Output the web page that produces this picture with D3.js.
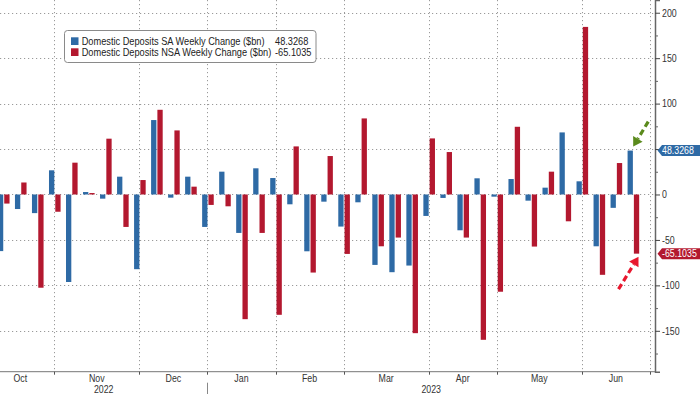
<!DOCTYPE html>
<html>
<head>
<meta charset="utf-8">
<script src="https://cdn.jsdelivr.net/npm/d3@7"></script>
<style>
  body { margin: 0; background: #fff; }
  svg { display: block; font-family: "Liberation Sans", Arial, sans-serif; }
</style>
</head>
<body>
<div id="chart"></div>
<script>
// Week ending dates (Wednesdays)
const weeks = [
    "2022-10-05", "2022-10-12", "2022-10-19", "2022-10-26",
    "2022-11-02", "2022-11-09", "2022-11-16", "2022-11-23", "2022-11-30",
    "2022-12-07", "2022-12-14", "2022-12-21", "2022-12-28",
    "2023-01-04", "2023-01-11", "2023-01-18", "2023-01-25",
    "2023-02-01", "2023-02-08", "2023-02-15", "2023-02-22",
    "2023-03-01", "2023-03-08", "2023-03-15", "2023-03-22", "2023-03-29",
    "2023-04-05", "2023-04-12", "2023-04-19", "2023-04-26",
    "2023-05-03", "2023-05-10", "2023-05-17", "2023-05-24", "2023-05-31",
    "2023-06-07", "2023-06-14", "2023-06-21"
];

// Domestic deposits, seasonally adjusted weekly change ($bn)
const saChange = [
    -62.3, -16, -20.5, 26.6,
    -96.3, 2.7, -4.6, 19.6, -82.2,
    81.9, -3.5, 19.6, -35.7,
    25.1, -42.3, 28.8, 18.1,
    -10.8, -62.5, -7.9, -35.3,
    -8.6, -77.5, -85.5, -78.2, -23.6,
    -3.8, -39.4, 17.8, -2.4,
    17.0, -6.8, 7.5, 68.3, 14.5,
    -57, -14.7, 48.3268
];

// Domestic deposits, not seasonally adjusted weekly change ($bn)
const nsaChange = [
    -10, 13.2, -102.6, -19,
    35, 1.6, 61.4, -35.7, 15.9,
    93.2, 70.5, 8.6, -11.5,
    -13, -137.2, -42.3, -132.4,
    52.9, -85.9, 42.3, -65.4,
    83.7, -57, -47.4, -152.6, 61.7,
    46.7, -47.4, -159.9, -107,
    74.5, -57.3, 25.1, -29.5, 184.4,
    -88.4, 34.6, -65.1035
];

const seriesNames = [
    "Domestic Deposits SA Weekly Change ($bn)",
    "Domestic Deposits NSA Weekly Change ($bn)"
];
const yTicks = [-150, -100, -50, 0, 50, 100, 150, 200];
const yMinorTicks = [-175, -125, -75, -25, 25, 75, 125, 175];

const width = 700;
const height = 394;
const plotRight = 655;
const plotBottom = 371.7;
const blue = "#2e6aa5";
const red = "#b3182f";
const narrow = 0.84; // the terminal font is a condensed face

const parse = d3.timeParse("%Y-%m-%d");
const dates = weeks.map(parse);
const data = dates.map((d, i) => ({ date: d, sa: saChange[i], nsa: nsaChange[i] }));
const last = data[data.length - 1];

const svg = d3.select("#chart")
    .append("svg")
    .attr("width", width)
    .attr("height", height)
    .attr("viewBox", [0, 0, width, height]);

// Scales: x is the week index, y the change in $bn
const x = d3.scaleLinear()
    .domain([-0.19, dates.length + 0.3])
    .range([0, plotRight]);

const y = d3.scaleLinear()
    .domain([-195, 214])
    .range([plotBottom, 0]);

// Month boundaries sit on the last week of each month
const weekAt = i => d3.timeWednesday.offset(dates[0], i);
const monthTicks = [];
for (let i = -1; i <= dates.length; i++) {
    if (weekAt(i).getMonth() !== weekAt(i + 1).getMonth()) monthTicks.push(i);
}

// condensed text placed at (px, py)
function label(sel, px, py, size) {
    return sel.attr("transform", (d, i) => `translate(${typeof px === "function" ? px(d, i) : px},${typeof py === "function" ? py(d, i) : py}) scale(${narrow},1)`)
        .style("font-size", size + "px");
}

// Grid
const grid = svg.append("g")
    .attr("stroke", "#9a9a9a")
    .attr("stroke-width", 1)
    .attr("stroke-dasharray", "1.2,2.8");

grid.selectAll("line.h")
    .data(yTicks)
    .join("line")
    .attr("x1", 0)
    .attr("x2", plotRight)
    .attr("y1", d => Math.round(y(d)) + 0.5)
    .attr("y2", d => Math.round(y(d)) + 0.5);

grid.selectAll("line.v")
    .data(monthTicks.filter(i => x(i) > 0))
    .join("line")
    .attr("x1", d => Math.round(x(d)) + 0.5)
    .attr("x2", d => Math.round(x(d)) + 0.5)
    .attr("y1", 0)
    .attr("y2", plotBottom);

// Bars
const barW = 5.3;
svg.append("g")
    .attr("fill", blue)
    .selectAll("rect")
    .data(data)
    .join("rect")
    .attr("x", (d, i) => x(i) - barW)
    .attr("width", barW)
    .attr("y", d => y(Math.max(0, d.sa)))
    .attr("height", d => Math.abs(y(d.sa) - y(0)));

svg.append("g")
    .attr("fill", red)
    .selectAll("rect")
    .data(data)
    .join("rect")
    .attr("x", (d, i) => x(i) + 1)
    .attr("width", barW)
    .attr("y", d => y(Math.max(0, d.nsa)))
    .attr("height", d => Math.abs(y(d.nsa) - y(0)));

// Right axis; labels hidden under the last-value tags are dropped
const covered = v => [last.sa, last.nsa].some(t => Math.abs(y(t) - y(v)) < 9);
const yAxis = svg.append("g")
    .attr("transform", `translate(${plotRight},0)`)
    .call(d3.axisRight(y).tickValues(yTicks).tickSize(5).tickPadding(2)
        .tickFormat(d => covered(d) ? "" : String(d)));

svg.append("g")
    .attr("transform", `translate(${plotRight},0)`)
    .call(d3.axisRight(y).tickValues(yMinorTicks).tickSize(3).tickFormat(""))
    .call(g => g.select(".domain").remove())
    .selectAll("line").attr("stroke", "#666");

yAxis.select(".domain").attr("stroke", "#666").attr("stroke-width", 1.5);
yAxis.selectAll(".tick line").attr("stroke", "#444");
yAxis.selectAll(".tick text")
    .attr("x", 0)
    .attr("fill", "#333")
    .style("font-family", "inherit")
    .call(label, 7, 0, 10.5);

// Bottom axis
const xAxis = svg.append("g")
    .attr("transform", `translate(0,${plotBottom})`);

xAxis.append("line")
    .attr("x1", 0)
    .attr("x2", plotRight)
    .attr("stroke", "#777")
    .attr("stroke-width", 1);

xAxis.selectAll("line.tick")
    .data(monthTicks.filter(i => x(i) > 0))
    .join("line")
    .attr("class", "tick")
    .attr("x1", d => Math.round(x(d)) + 0.5)
    .attr("x2", d => Math.round(x(d)) + 0.5)
    .attr("y1", 0)
    .attr("y2", 3)
    .attr("stroke", "#555");

const monthFormat = d3.timeFormat("%b");
xAxis.selectAll("text.month")
    .data(d3.pairs(monthTicks))
    .join("text")
    .attr("class", "month")
    .attr("text-anchor", "middle")
    .attr("fill", "#333")
    .call(label, ([a, b]) => (x(a) + x(b)) / 2, 10.3, 10.5)
    .text(([a, b]) => monthFormat(weekAt(b)));

// Years
const yearBreak = monthTicks.find(i => weekAt(i).getFullYear() !== weekAt(i + 1).getFullYear());
const years = [
    { label: "2022", x0: 0, x1: x(yearBreak) },
    { label: "2023", x0: x(yearBreak), x1: plotRight }
];
xAxis.selectAll("text.year")
    .data(years)
    .join("text")
    .attr("class", "year")
    .attr("text-anchor", "middle")
    .attr("fill", "#333")
    .call(label, d => (d.x0 + d.x1) / 2, 20.8, 10.5)
    .text(d => d.label);

xAxis.append("line")
    .attr("x1", Math.round(x(yearBreak)) + 0.5)
    .attr("x2", Math.round(x(yearBreak)) + 0.5)
    .attr("y1", 11)
    .attr("y2", 23)
    .attr("stroke", "#888");

// Legend
const legend = svg.append("g").attr("transform", "translate(64.5,30.5)");
legend.append("rect")
    .attr("width", 251.5)
    .attr("height", 32)
    .attr("rx", 3)
    .attr("fill", "#fff")
    .attr("stroke", "#8a8a8a");

const legendRows = [
    { name: seriesNames[0], value: last.sa, color: blue },
    { name: seriesNames[1], value: last.nsa, color: red }
];
const row = legend.selectAll("g.row")
    .data(legendRows)
    .join("g")
    .attr("class", "row")
    .attr("transform", (d, i) => `translate(0,${10.7 + i * 11})`);

row.append("rect")
    .attr("x", 6.5)
    .attr("y", -3.9)
    .attr("width", 7.5)
    .attr("height", 7.7)
    .attr("fill", d => d.color);

row.append("text")
    .attr("dy", "0.35em")
    .attr("fill", "#222")
    .call(label, 17.2, 0, 11)
    .text(d => d.name);

row.append("text")
    .attr("dy", "0.35em")
    .attr("fill", "#222")
    .call(label, 210.5, 0, 11)
    .text(d => d.value);

// Last value tags on the right axis
const tags = svg.append("g");
legendRows.forEach(d => {
    const ty = y(d.value);
    tags.append("path")
        .attr("d", `M${plotRight + 2.5},${ty} L${plotRight + 7},${ty - 5.5} H${width} V${ty + 5.5} H${plotRight + 7} Z`)
        .attr("fill", d.color);
    tags.append("text")
        .attr("dy", "0.36em")
        .attr("fill", "#fff")
        .call(label, plotRight + 7, ty, 10.5)
        .text(d.value);
});

// Annotation arrows pointing at the latest bars
const lastI = data.length - 1;
function arrow(x1, y1, x2, y2, color) {
    const ang = Math.atan2(y2 - y1, x2 - x1);
    const head = 9;
    const bx = x2 - head * Math.cos(ang);
    const by = y2 - head * Math.sin(ang);
    svg.append("line")
        .attr("x1", x1).attr("y1", y1)
        .attr("x2", bx).attr("y2", by)
        .attr("stroke", color)
        .attr("stroke-width", 3.2)
        .attr("stroke-dasharray", "6,3.5");
    const px = -Math.sin(ang) * 5.5;
    const py = Math.cos(ang) * 5.5;
    svg.append("path")
        .attr("d", `M${x2},${y2} L${bx + px},${by + py} L${bx - px},${by - py} Z`)
        .attr("fill", color);
}
const saX = x(lastI) - barW / 2;
const nsaX = x(lastI) + 1 + barW / 2;
arrow(saX + 18, y(last.sa) - 29, saX + 3, y(last.sa) - 4, "#5a8a1c");
arrow(nsaX - 18, y(last.nsa) + 35.5, nsaX + 2, y(last.nsa) + 3, "#e8172e");
</script>
</body>
</html>
